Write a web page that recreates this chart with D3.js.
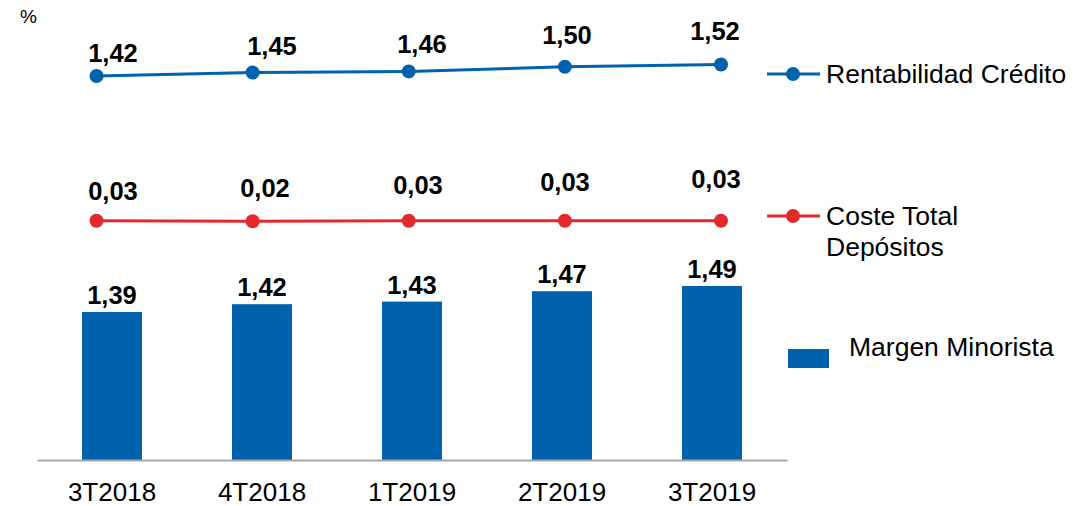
<!DOCTYPE html>
<html>
<head>
<meta charset="utf-8">
<script src="https://cdn.jsdelivr.net/npm/d3@7"></script>
<style>
  body { margin: 0; background: #fff; }
  svg { display: block; font-family: Arial, "Liberation Sans", sans-serif; }
</style>
</head>
<body>
<svg id="chart" width="1092" height="506"></svg>
<script>
// data
const quarters = ["3T2018", "4T2018", "1T2019", "2T2019", "3T2019"];
const margen = [1.39, 1.42, 1.43, 1.47, 1.49];
const rentabilidad = [1.42, 1.45, 1.46, 1.50, 1.52];
const coste = [0.03, 0.02, 0.03, 0.03, 0.03];
const fmt = v => d3.format(".2f")(v).replace(".", ",");

const blue = "#0061ad", red = "#e3292b";
const svg = d3.select("#chart");

// bars have their own band scale, lines use a point scale (a bit offset, like the original)
const xBand = d3.scaleBand().domain(quarters).range([37, 787]).paddingInner(0.6).paddingOuter(0.3);
const xPt = d3.scalePoint().domain(quarters).range([96.5, 721]);

const yBar = d3.scaleLinear().domain([0.82, 1.49]).range([460, 286]);
const yRent = d3.scaleLinear().domain([1.42, 1.52]).range([76, 64.5]);
const yCoste = d3.scaleLinear().domain([0, 0.1]).range([222, 218]);
// label positions drift slightly in the original
const yRentLbl = d3.scaleLinear().domain([1.42, 1.52]).range([62, 40]);
const yCosteLbl = d3.scaleLinear().domain([0, 4]).range([200, 188]);

// "%" unit
svg.append("text").attr("x", 20).attr("y", 23).attr("font-size", 19).text("%");

// bars
const gBars = svg.append("g");
gBars.selectAll("rect").data(margen).enter().append("rect")
    .attr("x", (d, i) => xBand(quarters[i]))
    .attr("width", xBand.bandwidth())
    .attr("y", d => yBar(d))
    .attr("height", d => yBar.range()[0] - yBar(d))
    .attr("fill", blue);
gBars.selectAll("text").data(margen).enter().append("text")
    .attr("x", (d, i) => xBand(quarters[i]) + xBand.bandwidth() / 2)
    .attr("y", d => yBar(d) - 8)
    .attr("text-anchor", "middle")
    .attr("font-size", 25.5).attr("font-weight", "bold")
    .text(fmt);

// x axis
const xAxis = d3.axisBottom(xBand).tickSize(0).tickPadding(23);
const gx = svg.append("g").attr("transform", "translate(0,460)").call(xAxis);
gx.select(".domain").attr("stroke", "#a6a6a6").attr("stroke-width", 2);
gx.selectAll("text").attr("font-size", 26).attr("fill", "#000")
    .attr("font-family", "Arial, 'Liberation Sans', sans-serif");

// lines
function drawLine(values, yScale, color, lblY, lblX) {
    const g = svg.append("g");
    const line = d3.line().x((d, i) => xPt(quarters[i])).y(d => yScale(d));
    g.append("path").datum(values).attr("d", line)
        .attr("fill", "none").attr("stroke", color).attr("stroke-width", 3);
    g.selectAll("circle").data(values).enter().append("circle")
        .attr("cx", (d, i) => xPt(quarters[i]))
        .attr("cy", d => yScale(d))
        .attr("r", 7).attr("fill", color);
    g.selectAll("text").data(values).enter().append("text")
        .attr("x", lblX)
        .attr("y", lblY)
        .attr("text-anchor", "middle")
        .attr("font-size", 25.5).attr("font-weight", "bold")
        .text(fmt);
}
const rentLblX = [113, 272, 422, 567, 715];
const costeLblX = [113, 265, 418, 565, 716];
drawLine(rentabilidad, yRent, blue, d => yRentLbl(d), (d, i) => rentLblX[i]);
drawLine(coste, yCoste, red, (d, i) => yCosteLbl(i), (d, i) => costeLblX[i]);

// legend
const leg = svg.append("g").attr("font-size", 26.5);
[[74, blue, ["Rentabilidad Crédito"]], [216, red, ["Coste Total", "Depósitos"]]].forEach(([y, c, lines]) => {
    leg.append("line").attr("x1", 767).attr("x2", 820).attr("y1", y).attr("y2", y)
        .attr("stroke", c).attr("stroke-width", 3);
    leg.append("circle").attr("cx", 793).attr("cy", y).attr("r", 7).attr("fill", c);
    lines.forEach((t, k) => {
        leg.append("text").attr("x", 826).attr("y", y + 9 + k * 31).text(t);
    });
});
leg.append("rect").attr("x", 788).attr("y", 349).attr("width", 41).attr("height", 19).attr("fill", blue);
leg.append("text").attr("x", 849).attr("y", 356).text("Margen Minorista");
</script>
</body>
</html>
